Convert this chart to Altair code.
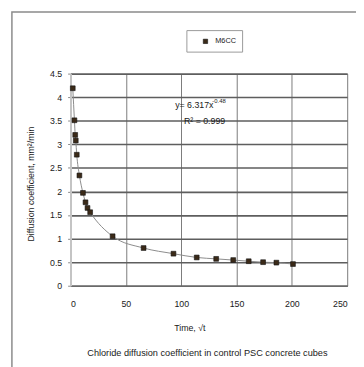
import altair as alt
import pandas as pd

# data
time_vals = [2, 3.5, 4.2, 4.7, 5.6, 8, 11.2, 13.5, 15.3, 17.7, 38, 66, 93, 114, 131.6, 147, 161, 174, 186, 201]
coef_vals = [4.19, 3.51, 3.2, 3.08, 2.78, 2.34, 1.97, 1.77, 1.65, 1.56, 1.05, 0.80, 0.68, 0.60, 0.57, 0.545, 0.52, 0.50, 0.49, 0.46]
series_name = "M6CC"
x_ticks = [0, 50, 100, 150, 200, 250]
y_ticks = [0, 0.5, 1, 1.5, 2, 2.5, 3, 3.5, 4, 4.5]
eq_text = "y= 6.317x"
eq_sup = "-0.48"
r2_text = "R\u00b2 = 0.999"
x_title = "Time, \u221at"
y_title = "Diffusion coefficient, mm\u00b2/min"
caption = "Chloride diffusion coefficient in control PSC concrete cubes"

df = pd.DataFrame({"t": time_vals, "d": coef_vals})

FONT = "Liberation Sans"
TXT = "#1a1a1a"

x_axis = alt.Axis(values=x_ticks, title=None, grid=True, labelOverlap=False, format="d",
                  gridColor={"condition": {"test": "datum.value === 0", "value": "#c4c4c4"}, "value": "#7a7a7a"},
                  gridWidth={"condition": {"test": "datum.value === 0", "value": 2}, "value": 1},
                  domainColor="#6a6a6a", domainWidth=1.5, ticks=False,
                  labelPadding=14, labelFont=FONT, labelFontSize=9, labelColor=TXT)
y_axis = alt.Axis(values=y_ticks, title=None, grid=True, labelOverlap=False, format="~g",
                  gridColor="#5e5e5e", gridWidth=1.6,
                  domainColor="#c4c4c4", domainWidth=2, tickColor="#888", tickSize=3,
                  labelPadding=6, labelFont=FONT, labelFontSize=9, labelColor=TXT)
x_enc = alt.X("t:Q", scale=alt.Scale(domain=[0, 250], nice=False), axis=x_axis)
y_enc = alt.Y("d:Q", scale=alt.Scale(domain=[0, 4.5], nice=False), axis=y_axis)

base = alt.Chart(df)

trend = base.mark_line(color="#8a8a8a", strokeWidth=1, interpolate="monotone").encode(
    x=x_enc, y=y_enc, order="t:Q")

points = base.mark_point(shape="square", filled=True, size=24, color="#3b2a18",
                         stroke="#111", strokeWidth=0.6, opacity=1).encode(x=x_enc, y=y_enc)

one = pd.DataFrame({"k": [0]})
ob = alt.Chart(one)

frame = ob.mark_rect(fill=None, stroke="#8a8a8a", strokeWidth=1.5).encode(
    x=alt.value(-60), x2=alt.value(500), y=alt.value(-63), y2=alt.value(500))

legend_box = ob.mark_rect(fill="white", stroke="#9a9a9a", strokeWidth=1).encode(
    x=alt.value(119), x2=alt.value(176), y=alt.value(-44), y2=alt.value(-22))
legend_pt = ob.mark_point(shape="square", filled=True, size=20, color="#3b2a18",
                          stroke="#111", strokeWidth=0.6, opacity=1).encode(
    x=alt.value(138), y=alt.value(-33))
legend_txt = ob.mark_text(text=series_name, align="left", baseline="middle", font=FONT,
                          fontSize=7.5, color=TXT).encode(x=alt.value(148), y=alt.value(-33))

eq1 = ob.mark_text(text=eq_text, align="left", baseline="middle", font=FONT, fontSize=9,
                   color=TXT).encode(x=alt.value(107), y=alt.value(32))
eq2 = ob.mark_text(text=eq_sup, align="left", baseline="middle", font=FONT, fontSize=6,
                   color=TXT).encode(x=alt.value(145), y=alt.value(28))
eq3 = ob.mark_text(text=r2_text, align="left", baseline="middle", font=FONT, fontSize=9,
                   color=TXT).encode(x=alt.value(116), y=alt.value(49))

xt = ob.mark_text(text=x_title, align="center", baseline="middle", font=FONT, fontSize=9,
                  color=TXT).encode(x=alt.value(122), y=alt.value(260))
yt = ob.mark_text(text=y_title, align="center", baseline="middle", font=FONT, fontSize=9,
                  color=TXT, angle=270).encode(x=alt.value(-40), y=alt.value(113))
cap = ob.mark_text(text=caption, align="center", baseline="middle", font=FONT, fontSize=9.4,
                   color=TXT).encode(x=alt.value(140), y=alt.value(286))

chart = alt.layer(frame, trend, points, legend_box, legend_pt, legend_txt, eq1, eq2, eq3, xt, yt, cap).properties(
    width=283, height=217,
    padding={"left": 64, "top": 63, "right": 9, "bottom": 79},
    autosize=alt.AutoSizeParams(type="none"),
).configure_view(stroke=None)

chart.save("out.html", embed_options={"renderer": "svg", "actions": False})
